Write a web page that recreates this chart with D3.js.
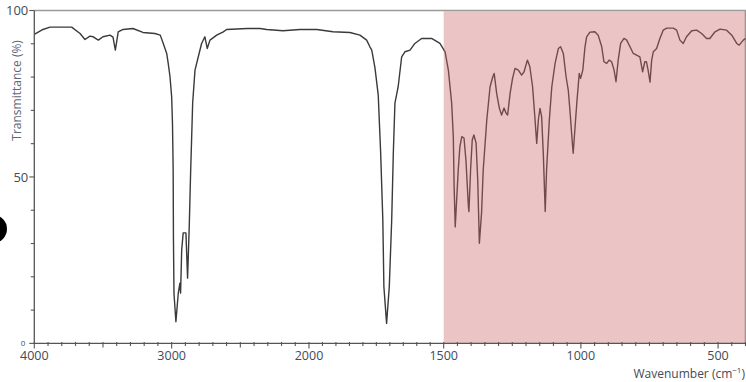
<!DOCTYPE html>
<html>
<head>
<meta charset="utf-8">
<script src="https://cdn.jsdelivr.net/npm/d3@7"></script>
<style>
  body { margin: 0; background: #fff; }
  svg { display: block; font-family: "Open Sans", sans-serif; }
</style>
</head>
<body>
<svg id="chart" width="746" height="382"></svg>
<script>
// IR spectrum, values
var wavenumber = [4000,3937,3886,3728,3667,3631,3595,3571,3534,3500,3449,3427,3410,3389,3354,3282,3209,3122,3083,3061,
  3036,3025,3012,3000,2994,2989,2987,2983,2969,2952,2940,2935,2927,2916,2896,2884,2872,2862,2847,2830,
  2806,2782,2758,2741,2721,2672,2624,2600,2450,2357,2308,2190,2066,1971,1911,1848,1811,1786,1774,1767,
  1755,1743,1734,1726,1722,1712,1702,1693,1687,1681,1669,1656,1644,1625,1607,1582,1545,1514,1495,1483,
  1471,1465,1462,1458,1447,1441,1434,1426,1419,1410,1408,1402,1396,1390,1382,1376,1370,1362,1356,1343,
  1331,1321,1316,1307,1297,1289,1280,1273,1267,1258,1249,1240,1228,1216,1207,1195,1186,1176,1167,1161,
  1155,1149,1143,1137,1131,1130,1125,1115,1106,1094,1082,1074,1064,1054,1046,1040,1031,1028,1022,1015,
  1006,1001,993,985,979,967,949,937,924,916,906,897,888,879,872,864,855,843,833,821,
  809,797,785,775,767,761,755,748,742,736,724,712,700,687,663,651,639,627,615,596,
  578,560,542,530,511,493,469,450,432,423,408,400];
var transmittance = [92.8,94.3,95.0,95.0,93.1,91.3,92.3,92.1,91.1,92.1,92.6,92.0,88.1,93.6,94.3,94.6,93.4,93.1,92.6,90.1,
  87.1,84.1,80.1,74.1,66.2,52.1,32.0,15.0,6.5,15.0,18.1,15.1,28.0,33.2,33.2,19.6,35.0,51.2,72.2,82.1,
  86.1,90.1,92.1,88.6,91.1,92.6,93.6,94.3,94.6,94.6,94.3,93.9,94.3,94.3,93.6,93.4,92.6,91.1,89.1,88.1,
  82.7,74.6,57.2,37.1,17.0,6.0,17.0,37.1,57.2,72.2,77.1,86.1,87.6,88.1,90.1,91.6,91.6,90.1,87.6,82.1,
  72.2,62.1,47.1,35.0,52.1,59.1,62.1,61.7,55.1,41.1,39.6,52.1,61.1,62.6,60.2,49.1,30.1,39.2,52.1,67.1,
  77.1,80.1,81.1,75.1,70.6,68.6,70.7,69.2,68.6,75.1,79.6,82.6,82.1,80.6,81.6,85.1,83.1,77.1,67.1,60.1,
  67.1,70.6,68.1,57.1,42.1,39.6,52.1,67.1,77.1,84.1,88.6,89.1,87.1,80.1,76.1,70.1,60.1,57.1,64.1,72.1,
  81.1,79.6,82.1,89.1,92.1,93.5,93.6,92.6,89.1,84.6,84.1,85.1,84.6,82.1,78.6,85.1,90.1,91.6,91.1,89.1,
  87.1,86.6,86.1,81.6,84.6,84.6,82.1,78.5,85.1,87.6,88.6,91.6,94.1,94.7,94.7,94.1,91.1,90.1,92.1,93.9,
  94.1,93.1,91.6,91.6,93.6,94.4,94.1,92.6,90.1,89.6,91.1,91.6];

var xTicks = [4000, 3000, 2000, 1500, 1000, 500];
var yTicks = [100, 50, 0];
var highlight = [1500, 400];   // shaded fingerprint region

var svg = d3.select("#chart");
var pLeft = 34.3, pRight = 745.5, pTop = 10.5, pBottom = 343.4;

// spectrometer axis: scale doubles below 2000 cm-1
var x = d3.scaleLinear()
    .domain([4000, 2000, 1500, 400])
    .range([pLeft, 309, 443.7, pRight]);
var y = d3.scaleLinear().domain([0, 100]).range([pBottom, pTop]);

var textCol = "#414b59";

// frame (top + right)
svg.append("path")
    .attr("d", "M" + pLeft + "," + pTop + "H" + pRight + "V" + pBottom)
    .attr("fill", "none")
    .attr("stroke", "#9a9a9a")
    .attr("stroke-width", 1.6);

var pts = wavenumber.map(function(w, i) { return [w, transmittance[i]]; });

var line = d3.line()
    .x(function(d) { return x(d[0]); })
    .y(function(d) { return y(d[1]); });

svg.append("path")
    .datum(pts)
    .attr("d", line)
    .attr("fill", "none")
    .attr("stroke", "#3a3a3a")
    .attr("stroke-width", 1.4)
    .attr("stroke-linejoin", "round");

// pink overlay on top of the spectrum
svg.append("rect")
    .attr("x", x(highlight[0]))
    .attr("y", pTop + 0.8)
    .attr("width", x(highlight[1]) - x(highlight[0]))
    .attr("height", pBottom - pTop - 0.8)
    .attr("fill", "rgb(203,104,104)")
    .attr("fill-opacity", 0.385);

// x axis
var minorX = d3.range(4000, 2000, -100).concat(d3.range(2000, 399, -50));
var gx = svg.append("g").attr("transform", "translate(0," + pBottom + ")");
gx.append("line").attr("x1", pLeft).attr("x2", pRight)
    .attr("stroke", "#555").attr("stroke-width", 1.3);
gx.selectAll(".mx").data(minorX).enter().append("line")
    .attr("x1", function(d) { return x(d); })
    .attr("x2", function(d) { return x(d); })
    .attr("y1", -1.5)
    .attr("y2", function(d) {
      if (xTicks.indexOf(d) >= 0) return 5;
      if (d === 3500 || d === 2500) return 4;
      return 2.5;
    })
    .attr("stroke", "#555").attr("stroke-width", 1.1);
gx.selectAll(".lx").data(xTicks).enter().append("text")
    .attr("x", function(d) { return x(d); })
    .attr("y", 17)
    .attr("text-anchor", "middle")
    .attr("font-size", 12.5)
    .attr("fill", textCol)
    .text(function(d) { return d; });

var xl = svg.append("text")
    .attr("x", 745)
    .attr("y", 377.5)
    .attr("text-anchor", "end")
    .attr("font-size", 12)
    .attr("fill", textCol);
xl.append("tspan").text("Wavenumber (cm");
xl.append("tspan").attr("font-size", 8).attr("dy", -4.5).text("\u22121");
xl.append("tspan").attr("dy", 4.5).text(")");

// y axis
var gy = svg.append("g").attr("transform", "translate(" + pLeft + ",0)");
gy.append("line").attr("y1", pTop).attr("y2", pBottom)
    .attr("stroke", "#555").attr("stroke-width", 1.3);
gy.selectAll(".my").data(d3.range(0, 101, 10)).enter().append("line")
    .attr("x1", function(d) { return yTicks.indexOf(d) >= 0 ? -5 : -3.5; })
    .attr("x2", 0)
    .attr("y1", function(d) { return y(d); })
    .attr("y2", function(d) { return y(d); })
    .attr("stroke", "#555").attr("stroke-width", 1.1);
gy.selectAll(".ly").data(yTicks).enter().append("text")
    .attr("x", function(d) { return d === 0 ? -9 : -6; })
    .attr("y", function(d) { return y(d); })
    .attr("dy", "0.35em")
    .attr("text-anchor", "end")
    .attr("font-size", function(d) { return d === 0 ? 8 : 13; })
    .attr("fill", textCol)
    .text(function(d) { return d; });

svg.append("text")
    .attr("transform", "translate(17," + y(76) + ") rotate(-90)")
    .attr("text-anchor", "middle")
    .attr("dy", "0.35em")
    .attr("font-size", 12)
    .attr("fill", "#5d6878")
    .text("Transmittance (%)");

// black marker dot at the left edge
svg.append("circle")
    .attr("cx", -7)
    .attr("cy", 229)
    .attr("r", 14)
    .attr("fill", "#000");
</script>
</body>
</html>
